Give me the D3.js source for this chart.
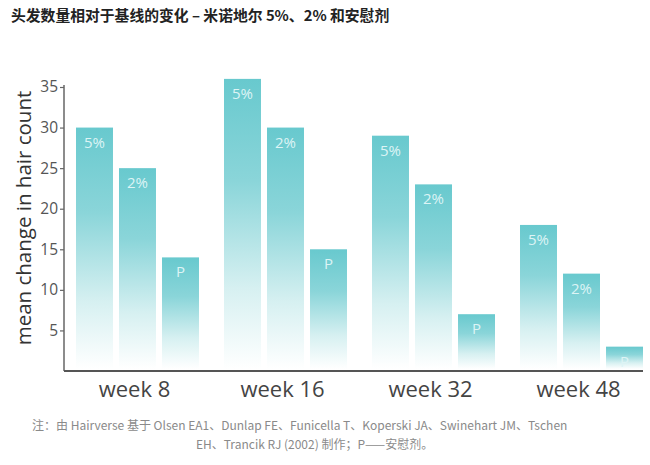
<!DOCTYPE html>
<html>
<head>
<meta charset="utf-8">
<script src="https://cdn.jsdelivr.net/npm/d3@7"></script>
<style>
  html, body { margin: 0; padding: 0; background: #fff; }
  svg { display: block; }
</style>
</head>
<body>
<svg id="chart" width="650" height="465"></svg>
<script>
// ----- 数据 -----
const weeks = ["week 8", "week 16", "week 32", "week 48"];
const doses = ["5%", "2%", "P"];
const minox5 = [30, 36, 29, 18];
const minox2 = [25, 30, 23, 12];
const placebo = [14, 15, 7, 3];
const yTicks = [5, 10, 15, 20, 25, 30, 35];
const title = "头发数量相对于基线的变化 – 米诺地尔 5%、2% 和安慰剂";
const yLabel = "mean change in hair count";
const noteLines = [
    "注：由 Hairverse 基于 Olsen EA1、Dunlap FE、Funicella T、Koperski JA、Swinehart JM、Tschen",
    "EH、Trancik RJ (2002) 制作；P——安慰剂。"
];

// 每组数据：周 × 剂量
const rows = weeks.map((w, i) => ({
    week: w,
    values: [minox5[i], minox2[i], placebo[i]].map((v, j) => ({ dose: doses[j], value: v }))
}));

const svg = d3.select("#chart");

// 标题
svg.append("text")
    .attr("x", 11).attr("y", 21)
    .style("font-family", "'Noto Sans CJK SC', sans-serif")
    .style("font-size", "14.8px")
    .style("font-weight", 700)
    .style("fill", "#222")
    .text(title);

// ----- 比例尺 -----
const axisX = 64;
const x0 = d3.scaleBand().domain(weeks).range([76, 643]).paddingInner(0.169).paddingOuter(0);
const x1 = d3.scaleBand().domain(doses).range([0, x0.bandwidth()]).paddingInner(0.14);
const y = d3.scaleLinear().domain([0, 35]).range([371, 87]);

// 渐变：顶部青色，底部淡出为白
const defs = svg.append("defs");
const grad = defs.append("linearGradient")
    .attr("id", "barGrad")
    .attr("x1", 0).attr("y1", 0).attr("x2", 0).attr("y2", 1);
grad.append("stop").attr("offset", "0%").attr("stop-color", "#68c9ce");
grad.append("stop").attr("offset", "35%").attr("stop-color", "#8ad5d9");
grad.append("stop").attr("offset", "72%").attr("stop-color", "#d6f0f1");
grad.append("stop").attr("offset", "100%").attr("stop-color", "#ffffff");

// 柱子
const g = svg.append("g");
const groupSel = g.selectAll("g.week")
    .data(rows)
    .enter().append("g")
    .attr("class", "week")
    .attr("transform", d => `translate(${x0(d.week)},0)`);

groupSel.selectAll("rect")
    .data(d => d.values)
    .enter().append("rect")
    .attr("x", d => x1(d.dose))
    .attr("y", d => y(d.value))
    .attr("width", x1.bandwidth())
    .attr("height", d => y(0) - y(d.value) - 2)
    .attr("fill", "url(#barGrad)");

// 柱内标签
groupSel.selectAll("text.lbl")
    .data(d => d.values)
    .enter().append("text")
    .attr("class", "lbl")
    .attr("x", d => x1(d.dose) + x1.bandwidth() / 2)
    .attr("y", d => y(d.value) + 20)
    .attr("text-anchor", "middle")
    .style("font-family", "'Open Sans', sans-serif")
    .style("font-size", "15px")
    .style("fill", "#ddf4f5")
    .text(d => d.dose);

// ----- Y 轴 -----
const yAxis = svg.append("g")
    .attr("transform", `translate(${axisX},0)`)
    .call(d3.axisLeft(y).tickValues(yTicks).tickSize(4).tickPadding(2));
yAxis.select(".domain").remove();
yAxis.selectAll(".tick line").attr("stroke", "#666").attr("stroke-width", 1.2);
yAxis.selectAll(".tick text")
    .style("font-family", "'Open Sans', sans-serif")
    .style("font-size", "15.5px")
    .style("fill", "#555");
svg.append("line")
    .attr("x1", axisX).attr("x2", axisX)
    .attr("y1", y(35) - 2).attr("y2", y(0))
    .attr("stroke", "#666").attr("stroke-width", 1.5);

// Y 轴标题
svg.append("text")
    .attr("transform", "translate(31,218) rotate(-90)")
    .attr("text-anchor", "middle")
    .style("font-family", "'Open Sans', sans-serif")
    .style("font-size", "20.5px")
    .style("fill", "#333")
    .text(yLabel);

// ----- X 轴 -----
const xAxis = svg.append("g")
    .attr("transform", `translate(0,${y(0)})`)
    .call(d3.axisBottom(x0).tickSize(0).tickPadding(10.5));
xAxis.select(".domain").remove();
xAxis.selectAll(".tick text")
    .attr("dx", -3)
    .style("font-family", "'Open Sans', sans-serif")
    .style("font-size", "22px")
    .style("fill", "#444");
svg.append("line")
    .attr("x1", axisX).attr("x2", x0.range()[1])
    .attr("y1", y(0)).attr("y2", y(0))
    .attr("stroke", "#555").attr("stroke-width", 2);

// ----- 注释（第一行左起，第二行缩进）-----
const noteX = [32, 196];
svg.append("g").selectAll("text")
    .data(noteLines)
    .enter().append("text")
    .attr("x", (d, i) => noteX[i])
    .attr("y", (d, i) => 430 + i * 18.5)
    .style("font-family", "'Noto Sans CJK SC', sans-serif")
    .style("font-size", "12px")
    .style("fill", "#8a8a8a")
    .text(d => d);
</script>
</body>
</html>
